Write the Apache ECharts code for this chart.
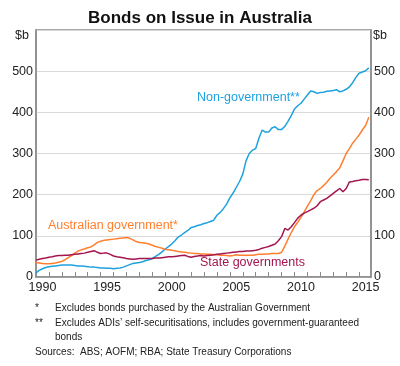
<!DOCTYPE html>
<html><head><meta charset="utf-8">
<script src="https://cdn.jsdelivr.net/npm/echarts@6/dist/echarts.min.js"></script>
<style>html,body{margin:0;padding:0;background:#fff}#c{width:400px;height:366px}</style>
</head><body><div id="c"></div>
<script>
// Quarterly observations, first quarter 1990 to last quarter 2015 ($b)
const startYear = 1990;
const nonGovernment = [
 10,16,20,23, 25,26,27,28, 29,29,29,29, 28,27,27,26, 25,24,24,23,
 22,22,21,21, 20,21,22,24, 27,30,33,34, 35,37,40,42, 45,50,55,61,
 68,74,80,88, 97,102,108,113, 120,122,125,127, 130,132,135,138,
 150,157,166,177, 192,204,218,232, 250,282,300,308, 312,337,357,352,
 352,362,365,358, 358,366,378,392, 408,416,422,432, 442,452,450,446,
 448,449,451,452, 453,455,450,452, 456,462,472,485, 495,498,501,508
];
const australianGovernment = [
 35,34,33,32, 32,33,34,36, 38,42,47,52, 58,63,66,68, 71,73,78,84,
 87,89,90,91, 92,93,94,95, 96,94,90,86, 84,83,82,80, 77,74,72,70,
 67,66,65,64, 62,61,60,59, 58,57,57,56, 56,55,55,54, 54,53,53,52,
 51,52,54,53, 53,53,53,53, 54,55,55,56, 56,57,57,57, 60,75,92,108,
 122,133,145,158, 172,185,200,210, 215,222,230,240, 248,256,265,282,
 300,312,325,335, 345,357,368,388
];
const stateGovernments = [
 41,43,45,46, 48,49,51,52, 52,53,53,54, 55,56,57,58, 60,62,64,60,
 57,58,58,55, 51,49,48,47, 45,44,43,44, 45,45,45,45, 45,46,46,47,
 48,49,49,50, 51,52,53,50, 48,50,51,52, 51,52,53,54, 55,56,57,58,
 59,60,61,62, 62,63,63,64, 65,67,70,72, 74,77,80,88, 98,118,114,122,
 132,143,150,155, 159,163,167,173, 183,187,191,197, 203,209,215,207,
 215,231,232,234, 235,237,237,236
];
const labelYears = [1990,1995,2000,2005,2010,2015];

function pairs(vals){ return vals.map((v,i)=>[startYear + i*0.25, v]); }

const chart = echarts.init(document.getElementById('c'), null, {renderer:'canvas'});
const FONT = 'Liberation Sans, Arial, sans-serif';
const gridLineColor = '#d9d9d9';
const frameColor = '#8c8c8c';
const yAxisCommon = {
  type:'value', min:0, max:600, interval:100,
  axisLine:{show:true, lineStyle:{color:frameColor, width:1.5}},
  axisTick:{show:false},
  splitLine:{show:true, lineStyle:{color:gridLineColor, width:1}},
  axisLabel:{color:'#222', fontSize:12.5, fontFamily:FONT, margin:3,
    formatter:v=> v===600 ? '' : String(v)}
};
chart.setOption({
  animation:false,
  title:{text:'Bonds on Issue in Australia', left:'center', top:5,
    textStyle:{fontSize:17, fontWeight:'bold', color:'#111', fontFamily:FONT}},
  grid:{left:36, right:29, top:30, bottom:89, show:true, borderColor:frameColor, borderWidth:1.5},
  xAxis:{type:'value', min:1990, max:2015.92, interval:1,
    axisLine:{show:true, onZero:false, lineStyle:{color:frameColor, width:1.5}},
    axisTick:{show:true, inside:true, length:5, lineStyle:{color:frameColor, width:1}},
    axisLabel:{formatter:v=> labelYears.indexOf(Math.round(v))>=0 && Math.abs(v-Math.round(v))<1e-6 ? String(Math.round(v)) : '',
      showMinLabel:true, showMaxLabel:false, hideOverlap:false,
      padding:[0,0,0,13], color:'#222', fontSize:12.5, fontFamily:FONT, margin:4},
    splitLine:{show:false}},
  yAxis:[Object.assign({position:'left'}, yAxisCommon),
         Object.assign({position:'right'}, yAxisCommon)],
  series:[
    {name:'Non-government', type:'line', data:pairs(nonGovernment), showSymbol:false,
      lineStyle:{color:'#1ea2df', width:1.5}},
    {name:'Australian government', type:'line', data:pairs(australianGovernment), showSymbol:false,
      lineStyle:{color:'#ff7f2f', width:1.5}},
    {name:'State governments', type:'line', data:pairs(stateGovernments), showSymbol:false,
      lineStyle:{color:'#a3164f', width:1.5}}
  ],
  graphic:[
    {type:'text', left:15, top:29, style:{text:'$b', fontSize:12.5, fontFamily:FONT, fill:'#222'}},
    {type:'text', left:373, top:29, style:{text:'$b', fontSize:12.5, fontFamily:FONT, fill:'#222'}},
    {type:'text', left:197, top:91, style:{text:'Non-government**', fontSize:12.5, fontFamily:FONT, fill:'#1ea2df'}},
    {type:'text', left:48, top:219, style:{text:'Australian government*', fontSize:12.5, fontFamily:FONT, fill:'#ff7f2f'}},
    {type:'text', left:200, top:256, style:{text:'State governments', fontSize:12.5, fontFamily:FONT, fill:'#a3164f'}},
    {type:'text', left:35, top:303, style:{text:'*', fontSize:10, fontFamily:FONT, fill:'#222'}},
    {type:'text', left:55, top:303, style:{text:'Excludes bonds purchased by the Australian Government', fontSize:10, fontFamily:FONT, fill:'#222'}},
    {type:'text', left:35, top:318, style:{text:'**', fontSize:10, fontFamily:FONT, fill:'#222'}},
    {type:'text', left:55, top:318, style:{text:'Excludes ADIs\u2019 self-securitisations, includes government-guaranteed', fontSize:10, fontFamily:FONT, fill:'#222'}},
    {type:'text', left:55, top:332, style:{text:'bonds', fontSize:10, fontFamily:FONT, fill:'#222'}},
    {type:'text', left:35, top:347, style:{text:'Sources:  ABS; AOFM; RBA; State Treasury Corporations', fontSize:10, fontFamily:FONT, fill:'#222'}}
  ]
});
</script></body></html>
